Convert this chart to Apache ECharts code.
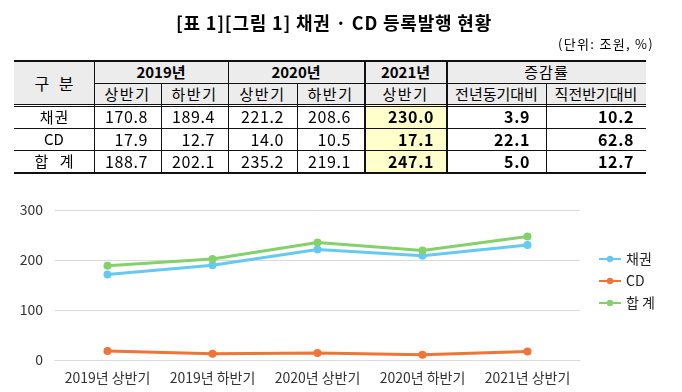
<!DOCTYPE html>
<html><head><meta charset="utf-8">
<script src="https://cdn.jsdelivr.net/npm/echarts@6/dist/echarts.min.js"></script>
<style>
html,body{margin:0;padding:0;background:#fff;}
#wrap{position:relative;width:682px;height:392px;overflow:hidden;font-family:"Noto Sans CJK KR","Noto Sans",sans-serif;color:#000;}
#chart{position:absolute;left:0;top:0;width:682px;height:392px;}
#title{position:absolute;left:0;top:9px;width:668px;text-align:center;font-size:18px;font-weight:bold;letter-spacing:0.8px;line-height:26px;}
#unit{position:absolute;right:28px;top:35px;font-size:13px;letter-spacing:1.3px;line-height:18px;}
.cell{position:absolute;box-sizing:border-box;white-space:nowrap;}
.ln{position:absolute;background:#111;}
</style></head>
<body><div id="wrap">
<div id="chart"></div>
<div id="title"></div>
<div id="unit"></div>
<div id="tbl"></div>
</div>
<script>
const titleText = '[표 1][그림 1] 채권 · CD 등록발행 현황';
const unitText = '(단위: 조원, %)';
const categories = ['2019년 상반기','2019년 하반기','2020년 상반기','2020년 하반기','2021년 상반기'];
const yearHeaders = ['2019년','2020년','2021년','증감률'];
const subHeaders = ['상반기','하반기','상반기','하반기','상반기','전년동기대비','직전반기대비'];
const rowHeader = '구 분';
const rowNames = ['채권','CD','합 계'];
const bonds = [170.8,189.4,221.2,208.6,230.0];
const cd = [17.9,12.7,14.0,10.5,17.1];
const total = [188.7,202.1,235.2,219.1,247.1];
const yoyChange = [3.9,22.1,5.0];
const hohChange = [10.2,62.8,12.7];
const yTicks = [0,100,200,300];

document.getElementById('title').textContent = titleText;
document.getElementById('unit').textContent = unitText;

// table layout (pixel edges)
const xs = [14,94,161,228,297,364,447,546,646];
const ys = [61,83,105,128,150,172];
const tbl = document.getElementById('tbl');
function cell(c0,c1,r0,r1,text,st){
  const d = document.createElement('div');
  d.className='cell';
  const h = ys[r1]-ys[r0];
  d.style.left = xs[c0]+'px'; d.style.width=(xs[c1]-xs[c0])+'px';
  d.style.top = ys[r0]+'px'; d.style.height=h+'px'; d.style.lineHeight=h+'px';
  d.style.textAlign='center';
  Object.assign(d.style, st||{});
  d.textContent = text;
  tbl.appendChild(d);
  return d;
}
function hline(x0,x1,y,h){const d=document.createElement('div');d.className='ln';d.style.cssText='left:'+x0+'px;width:'+(x1-x0)+'px;top:'+y+'px;height:'+(h||1)+'px';tbl.appendChild(d);}
function vline(x,y0,y1,w){const d=document.createElement('div');d.className='ln';d.style.cssText='left:'+x+'px;top:'+y0+'px;height:'+(y1-y0)+'px;width:'+(w||1)+'px';tbl.appendChild(d);}

const gray = '#ececec', yellow = '#ffffcc';
cell(0,8,0,2,'',{background:gray});
cell(5,6,2,5,'',{background:yellow});
cell(0,1,0,2,rowHeader,{fontSize:'16px',letterSpacing:'3px',paddingLeft:'3px'});
cell(1,3,0,1,yearHeaders[0],{fontSize:'15px',fontWeight:'bold'});
cell(3,5,0,1,yearHeaders[1],{fontSize:'15px',fontWeight:'bold'});
cell(5,6,0,1,yearHeaders[2],{fontSize:'15px',fontWeight:'bold'});
cell(6,8,0,1,yearHeaders[3],{fontSize:'15px',letterSpacing:'1px'});
subHeaders.forEach((s,i)=>{
  cell(i+1,i+2,1,2,s,{fontSize:'15px',letterSpacing: i>=5?'0px':'1.5px'});
});
const rows=[bonds,cd,total];
const nameStyle=[{letterSpacing:'1px',paddingLeft:'1px'},{letterSpacing:'0px'},{letterSpacing:'4px',paddingLeft:'4px'}];
const numStyle = {textAlign:'right',fontSize:'16px',letterSpacing:'0.6px'};
rows.forEach((r,ri)=>{
  cell(0,1,ri+2,ri+3,rowNames[ri],Object.assign({fontSize:'15px'},nameStyle[ri]));
  r.forEach((v,i)=>{
    cell(i+1,i+2,ri+2,ri+3,v.toFixed(1),Object.assign({},numStyle,{paddingRight:'13px',fontWeight:i===4?'bold':'normal'}));
  });
  cell(6,7,ri+2,ri+3,yoyChange[ri].toFixed(1),Object.assign({},numStyle,{paddingRight:'16px',fontWeight:'bold'}));
  cell(7,8,ri+2,ri+3,hohChange[ri].toFixed(1),Object.assign({},numStyle,{paddingRight:'12px',fontWeight:'bold'}));
});
// lines
hline(xs[0],xs[8],60,2);
hline(xs[1],xs[8],83,1);
hline(xs[0],xs[8],104,1);
hline(xs[0],xs[8],106,1);
hline(xs[0],xs[8],128,1);
hline(xs[0],xs[8],150,1);
hline(xs[0],xs[8],172,2);
[1,3,5,6].forEach(i=>vline(xs[i],60,174));
[2,4,7].forEach(i=>vline(xs[i],83,174));
const box=document.createElement('div');
box.style.cssText='position:absolute;left:'+(xs[5])+'px;top:60px;width:'+(xs[6]-xs[5]+1)+'px;height:114px;border:2px solid #111;box-sizing:border-box;';
tbl.appendChild(box);

const chart = echarts.init(document.getElementById('chart'), null, {renderer:'canvas'});
const font = '"Noto Sans CJK KR","Noto Sans",sans-serif';
function mk(name, data, color){
  return {name, type:'line', data, symbol:'circle', symbolSize:8,
    lineStyle:{width:3,color}, itemStyle:{color}, animation:false};
}
chart.setOption({
  animation:false,
  textStyle:{fontFamily:font},
  grid:{left:55,right:102,top:210,bottom:32,containLabel:false},
  xAxis:{type:'category',data:categories,boundaryGap:true,
    axisLine:{lineStyle:{color:'#d9d9d9'}},axisTick:{show:false},
    axisLabel:{color:'#333',fontSize:14,margin:11,interval:0,hideOverlap:false,fontFamily:font}},
  yAxis:{type:'value',min:yTicks[0],max:yTicks[yTicks.length-1],interval:100,
    axisLine:{show:false},axisTick:{show:false},
    axisLabel:{color:'#333',fontSize:14,margin:12,fontFamily:font},
    splitLine:{lineStyle:{color:'#d9d9d9'}}},
  legend:{orient:'vertical',left:593,top:247,itemWidth:22,itemHeight:8,itemGap:8,
    textStyle:{fontSize:14,color:'#222',fontFamily:font},
    data:['채권','CD','합 계']},
  series:[mk('채권',bonds,'#66c9f2'),mk('CD',cd,'#ee7438'),mk('합 계',total,'#84d16c')]
});
</script>
</body></html>
